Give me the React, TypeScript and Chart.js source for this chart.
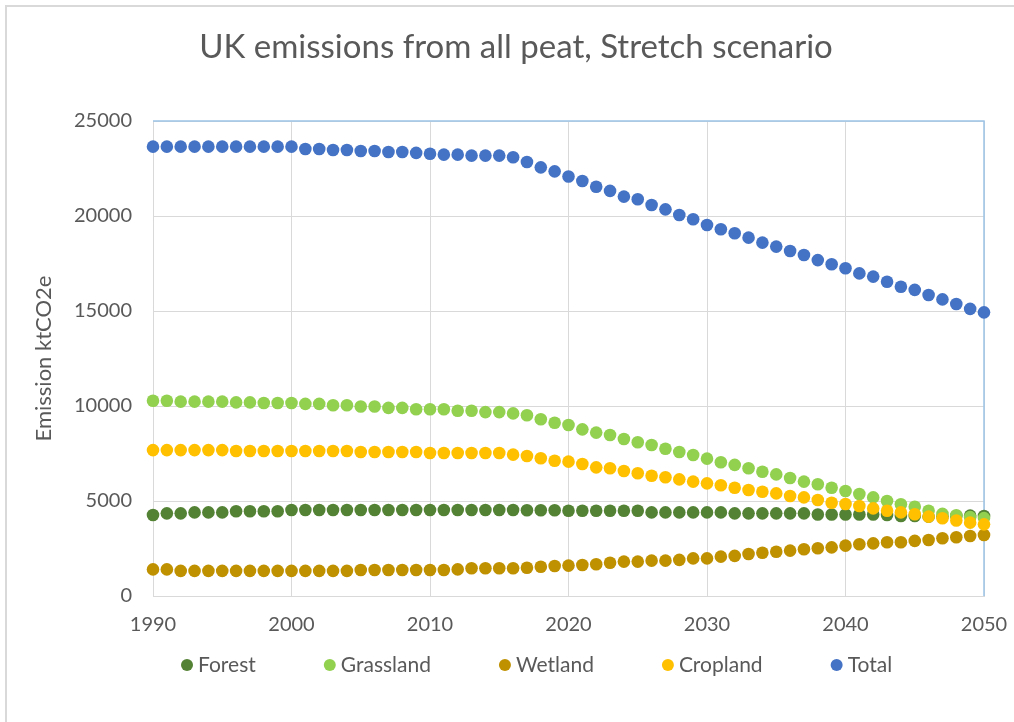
import React, { useEffect, useRef } from 'react';
import { Chart, registerables } from 'chart.js';

Chart.register(...registerables);

const years = [
  1990, 1991, 1992, 1993, 1994, 1995, 1996, 1997, 1998, 1999,
  2000, 2001, 2002, 2003, 2004, 2005, 2006, 2007, 2008, 2009,
  2010, 2011, 2012, 2013, 2014, 2015, 2016, 2017, 2018, 2019,
  2020, 2021, 2022, 2023, 2024, 2025, 2026, 2027, 2028, 2029,
  2030, 2031, 2032, 2033, 2034, 2035, 2036, 2037, 2038, 2039,
  2040, 2041, 2042, 2043, 2044, 2045, 2046, 2047, 2048, 2049,
  2050,
];

const forest = [
  4260, 4350, 4350, 4400, 4400, 4400, 4460, 4460, 4460, 4460,
  4530, 4530, 4530, 4530, 4530, 4530, 4530, 4530, 4530, 4530,
  4530, 4530, 4530, 4530, 4530, 4530, 4530, 4510, 4510, 4510,
  4490, 4490, 4490, 4490, 4490, 4490, 4400, 4400, 4400, 4400,
  4400, 4400, 4350, 4350, 4350, 4350, 4350, 4350, 4290, 4290,
  4290, 4290, 4290, 4260, 4210, 4210, 4180, 4180, 4210, 4230,
  4210,
];

const grassland = [
  10280, 10280, 10230, 10230, 10230, 10230, 10190, 10190, 10160, 10160,
  10160, 10110, 10110, 10040, 10040, 9970, 9970, 9900, 9900, 9830,
  9830, 9830, 9750, 9750, 9680, 9680, 9610, 9510, 9300, 9120,
  9000, 8770, 8600, 8470, 8260, 8090, 7950, 7750, 7580, 7420,
  7230, 7040, 6900, 6720, 6540, 6400, 6210, 6020, 5880, 5700,
  5530, 5370, 5190, 5000, 4830, 4700, 4490, 4320, 4250, 4150,
  4100,
];

const wetland = [
  1400, 1400, 1320, 1320, 1320, 1320, 1320, 1320, 1320, 1320,
  1320, 1320, 1320, 1320, 1320, 1370, 1370, 1370, 1370, 1370,
  1370, 1370, 1400, 1460, 1460, 1460, 1460, 1490, 1540, 1580,
  1600, 1630, 1670, 1750, 1810, 1810, 1860, 1860, 1900, 1980,
  1980, 2070, 2110, 2210, 2280, 2330, 2390, 2460, 2510, 2560,
  2650, 2720, 2770, 2830, 2830, 2900, 2950, 3040, 3090, 3160,
  3210,
];

const cropland = [
  7680, 7680, 7680, 7680, 7680, 7680, 7630, 7630, 7630, 7630,
  7630, 7630, 7630, 7630, 7630, 7580, 7580, 7580, 7580, 7580,
  7530, 7530, 7530, 7530, 7530, 7530, 7440, 7370, 7250, 7120,
  7070, 6950, 6770, 6720, 6580, 6460, 6330, 6250, 6140, 6020,
  5930, 5830, 5700, 5580, 5490, 5400, 5260, 5190, 5050, 4910,
  4840, 4740, 4610, 4490, 4400, 4300, 4180, 4090, 3970, 3860,
  3770,
];

const total = [
  23650, 23650, 23650, 23650, 23650, 23650, 23650, 23650, 23650, 23650,
  23650, 23530, 23530, 23470, 23470, 23420, 23420, 23370, 23370, 23320,
  23280, 23230, 23230, 23180, 23180, 23180, 23090, 22840, 22560, 22350,
  22080, 21840, 21540, 21320, 21020, 20880, 20580, 20350, 20050, 19830,
  19530, 19300, 19090, 18860, 18600, 18390, 18160, 17950, 17680, 17460,
  17250, 16980, 16810, 16540, 16280, 16110, 15840, 15610, 15370, 15110,
  14930,
];

const seriesNames = ['Forest', 'Grassland', 'Wetland', 'Cropland', 'Total'];
const seriesValues = [forest, grassland, wetland, cropland, total];
const seriesColors = ['#548235', '#92D050', '#BF9000', '#FFC000', '#4472C4'];

const xTicks = [1990, 2000, 2010, 2020, 2030, 2040, 2050];
const yTicks = [0, 5000, 10000, 15000, 20000, 25000];

const titleText = 'UK emissions from all peat, Stretch scenario';
const yAxisTitle = 'Emission ktCO2e';

const TEXT = '#595959';
const GRID = '#d9d9d9';
const FONT = 'Lato';

const framePlugin = {
  id: 'frame',
  beforeDraw(chart: any) {
    const t = chart.titleBlock;
    if (t) {
      t.left = 18;
      t.right = 1014;
    }
    const ctx = chart.ctx;
    ctx.save();
    ctx.fillStyle = '#ffffff';
    ctx.fillRect(0, 0, chart.width, chart.height);
    ctx.fillStyle = GRID;
    ctx.fillRect(5, 5, chart.width - 5, 2);
    ctx.fillRect(5, 5, 2, chart.height - 5);
    ctx.restore();
  },
  beforeDatasetsDraw(chart: any) {
    const { ctx, chartArea: a } = chart;
    ctx.save();
    ctx.strokeStyle = '#9DC3E6';
    ctx.lineWidth = 1.5;
    ctx.beginPath();
    ctx.moveTo(a.left, a.top);
    ctx.lineTo(a.right, a.top);
    ctx.lineTo(a.right, a.bottom);
    ctx.stroke();
    ctx.restore();
  },
  afterDraw(chart: any) {
    const ctx = chart.ctx;
    ctx.save();
    ctx.font = `21px ${FONT}`;
    ctx.textBaseline = 'middle';
    ctx.textAlign = 'left';
    const y = 665;
    let x = 182;
    chart.data.datasets.forEach((ds: any) => {
      ctx.fillStyle = ds.backgroundColor;
      ctx.beginPath();
      ctx.arc(x + 5, y, 6, 0, Math.PI * 2);
      ctx.fill();
      ctx.fillStyle = TEXT;
      ctx.fillText(ds.label, x + 16, y);
      x += 16 + ctx.measureText(ds.label).width + 69;
    });
    ctx.restore();
  },
};

export default function App() {
  const ref = useRef<HTMLCanvasElement | null>(null);

  useEffect(() => {
    if (!ref.current) return;
    const datasets = seriesNames.map((name, i) => ({
      label: name,
      data: years.map((yr, j) => ({ x: yr, y: seriesValues[i][j] })),
      backgroundColor: seriesColors[i],
      borderColor: seriesColors[i],
      pointRadius: 6.3,
      pointBorderWidth: 0,
      pointHoverRadius: 6.3,
      showLine: false,
      clip: false as any,
      order: seriesNames.length - 1 - i,
    }));

    const chart = new Chart(ref.current, {
      type: 'scatter',
      data: { datasets },
      plugins: [framePlugin],
      options: {
        responsive: false,
        animation: false,
        events: [],
        layout: { padding: { left: 0, right: 30, top: 0, bottom: 0 } },
        plugins: {
          legend: { display: false },
          tooltip: { enabled: false },
          title: {
            display: true,
            text: titleText,
            color: TEXT,
            font: { family: FONT, size: 33, weight: 'normal' },
            padding: { top: 28, bottom: 53.4 },
          },
        },
        scales: {
          x: {
            type: 'linear',
            min: 1990,
            max: 2050,
            afterBuildTicks: (scale: any) => {
              scale.ticks = xTicks.map((v) => ({ value: v }));
            },
            afterFit: (scale: any) => {
              scale.height = 126;
              scale.paddingRight = 0;
              scale.paddingLeft = 0;
            },
            ticks: {
              color: TEXT,
              font: { family: FONT, size: 20 },
              padding: 17,
              maxRotation: 0,
              autoSkip: false,
              callback: (v: any) => String(v),
            },
            grid: { color: GRID, lineWidth: 1, drawTicks: false },
            border: { color: GRID, width: 1 },
          },
          y: {
            type: 'linear',
            min: 0,
            max: 25000,
            afterBuildTicks: (scale: any) => {
              scale.ticks = yTicks.map((v) => ({ value: v }));
            },
            afterFit: (scale: any) => {
              scale.width = 153;
            },
            ticks: {
              color: TEXT,
              font: { family: FONT, size: 20 },
              padding: 21,
              autoSkip: false,
              callback: (v: any) => String(v),
            },
            grid: { color: GRID, lineWidth: 1, drawTicks: false },
            border: { color: GRID, width: 1 },
            title: {
              display: true,
              text: yAxisTitle,
              color: TEXT,
              font: { family: FONT, size: 22, weight: 'normal' },
              padding: { top: 31, bottom: 0 },
            },
          },
        },
      },
    });
    return () => chart.destroy();
  }, []);

  return (
    <div style={{ position: 'absolute', left: 0, top: 0, width: 1014, height: 722 }}>
      <canvas ref={ref} width={1014} height={722} style={{ display: 'block' }} />
    </div>
  );
}
